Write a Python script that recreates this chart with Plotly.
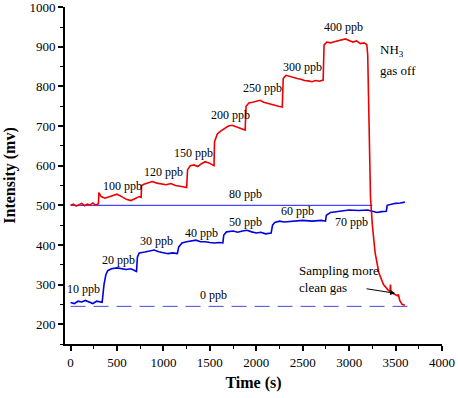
import plotly.graph_objects as go

# Red trace (NH3 response, 100-400 ppb)
red_t = [0, 30, 60, 90, 120, 150, 180, 210, 240, 270, 300,
         305, 330, 370, 410, 450, 500, 550, 600, 650, 700, 740, 760,
         765, 790, 830, 880, 930, 980, 1030, 1080, 1130, 1180, 1220, 1250,
         1260, 1290, 1330, 1370, 1410, 1450, 1490, 1520, 1545,
         1550, 1580, 1620, 1660, 1700, 1740, 1780, 1820, 1860, 1880,
         1890, 1920, 1960, 2000, 2040, 2080, 2120, 2160, 2200, 2240, 2280,
         2290, 2320, 2360, 2400, 2440, 2480, 2520, 2560, 2600, 2640, 2680, 2720,
         2730, 2760, 2800, 2840, 2880, 2920, 2960, 3000, 3040, 3080, 3120, 3160, 3190,
         3200, 3215, 3230, 3250, 3280, 3320, 3370, 3420, 3440, 3445, 3450, 3470, 3520, 3530, 3545, 3570, 3600]
red_v = [500, 503, 498, 502, 505, 499, 503, 501, 506, 500, 504,
         532, 522, 518, 521, 525, 528, 522, 515, 512, 518, 522, 520,
         550, 553, 557, 560, 556, 554, 552, 555, 550, 548, 547, 545,
         590, 600, 602, 598, 605, 610, 607, 603, 600,
         660, 680, 688, 695, 700, 702, 698, 695, 692, 690,
         750, 758, 760, 762, 765, 760, 757, 755, 752, 750, 748,
         820, 828, 825, 822, 820, 818, 815, 814, 812, 815, 813, 816,
         905, 912, 910, 913, 915, 918, 920, 916, 912, 915, 908, 910, 906,
         880, 700, 520, 450, 380, 330, 300, 286, 283, 300, 282, 278, 272, 275, 260, 250, 248]

# Blue trace (10-80 ppb)
blue_t = [0, 40, 80, 120, 160, 200, 240, 280, 320, 340,
          360, 380, 400, 440, 500, 550, 600, 650, 690, 710,
          720, 740, 800, 850, 900, 950, 1000, 1050, 1100, 1150,
          1165, 1200, 1250, 1300, 1350, 1400, 1450, 1500, 1550, 1600, 1640,
          1650, 1680, 1750, 1800, 1850, 1900, 1950, 2000, 2050, 2100, 2160,
          2175, 2200, 2250, 2300, 2400, 2500, 2600, 2700, 2745,
          2755, 2800, 2900, 3000, 3100, 3200, 3250, 3300, 3350, 3400,
          3410, 3450, 3500, 3550, 3600]
blue_v = [255, 252, 258, 256, 260, 255, 252, 258, 256, 255,
          300, 325, 335, 340, 342, 340, 338, 340, 335, 333,
          370, 380, 382, 385, 387, 383, 380, 378, 380, 378,
          395, 405, 408, 410, 412, 408, 408, 406, 405, 406, 405,
          425, 433, 435, 432, 435, 437, 433, 430, 432, 428, 430,
          450, 457, 460, 458, 460, 462, 460, 462, 460,
          475, 482, 485, 488, 487, 488, 485, 482, 484, 485,
          500, 503, 505, 506, 508]

ref80_t = [0, 3250]
ref80_v = [500, 500]
ref0_t = [0, 3650]
ref0_v = [245, 245]

red_labels = ["100 ppb", "120 ppb", "150 ppb", "200 ppb", "250 ppb", "300 ppb", "400 ppb"]
red_lx = [560, 1000, 1325, 1720, 2065, 2495, 2935]
red_ly = [548, 583, 633, 728, 796, 849, 950]
blue_labels = ["10 ppb", "20 ppb", "30 ppb", "40 ppb", "50 ppb", "60 ppb", "70 ppb", "80 ppb", "0 ppb"]
blue_lx = [140, 520, 925, 1410, 1880, 2440, 3030, 1880, 1540]
blue_ly = [288, 361, 409, 429, 457, 485, 457, 528, 273]

FONT = "Liberation Serif"

fig = go.Figure()
fig.add_trace(go.Scatter(x=ref0_t, y=ref0_v, mode="lines",
                         line=dict(color="#4a4ae0", width=1, dash="15px,8px"), showlegend=False))
fig.add_trace(go.Scatter(x=ref80_t, y=ref80_v, mode="lines",
                         line=dict(color="#1a1aff", width=1), showlegend=False))
fig.add_trace(go.Scatter(x=blue_t, y=blue_v, mode="lines",
                         line=dict(color="#0000e0", width=1.6), showlegend=False))
fig.add_trace(go.Scatter(x=red_t, y=red_v, mode="lines",
                         line=dict(color="#ee0000", width=1.6), showlegend=False))

for txt, x, y in zip(red_labels + blue_labels, red_lx + blue_lx, red_ly + blue_ly):
    fig.add_annotation(x=x, y=y, text=txt, showarrow=False,
                       font=dict(family=FONT, size=12, color="black"))

fig.add_annotation(x=3310, y=891, text="NH<sub>3</sub>", showarrow=False, xanchor="left",
                   font=dict(family=FONT, size=13, color="black"))
fig.add_annotation(x=3310, y=839, text="gas off", showarrow=False, xanchor="left",
                   font=dict(family=FONT, size=13, color="black"))
fig.add_annotation(x=2440, y=313, text="Sampling more<br>clean gas", showarrow=False,
                   xanchor="left", align="left",
                   font=dict(family=FONT, size=13, color="black"))
fig.add_annotation(x=3495, y=278, ax=3172, ay=290, axref="x", ayref="y",
                   xref="x", yref="y", text="", showarrow=True,
                   arrowhead=2, arrowsize=1, arrowwidth=1, arrowcolor="black")

axis_common = dict(showline=True, linecolor="black", linewidth=2, ticks="outside",
                   ticklen=5, tickwidth=1.5, tickcolor="black", showgrid=False, zeroline=False,
                   automargin=False, ticklabeloverflow="allow",
                   tickfont=dict(family=FONT, size=13, color="black"),
                   minor=dict(ticks="outside", ticklen=3, tickwidth=1, tickcolor="black"))

fig.update_xaxes(range=[-60, 4000], tickvals=[0, 500, 1000, 1500, 2000, 2500, 3000, 3500, 4000],
                 title=dict(text="<b>Time (s)</b>", font=dict(family=FONT, size=16, color="black"), standoff=8),
                 **axis_common)
fig.update_yaxes(range=[150, 1000.5], tickvals=[200, 300, 400, 500, 600, 700, 800, 900, 1000],
                 title=dict(text="<b>Intensity (mv)</b>", font=dict(family=FONT, size=16, color="black"), standoff=10),
                 **axis_common)
fig.update_xaxes(minor=dict(dtick=250))
fig.update_yaxes(minor=dict(dtick=50))

fig.update_layout(width=458, height=398, margin=dict(l=65, r=16, t=7, b=54),
                  plot_bgcolor="white", paper_bgcolor="white")

fig.write_html("out.html", config={"displayModeBar": False},
               post_script="document.body.style.margin='0';")
